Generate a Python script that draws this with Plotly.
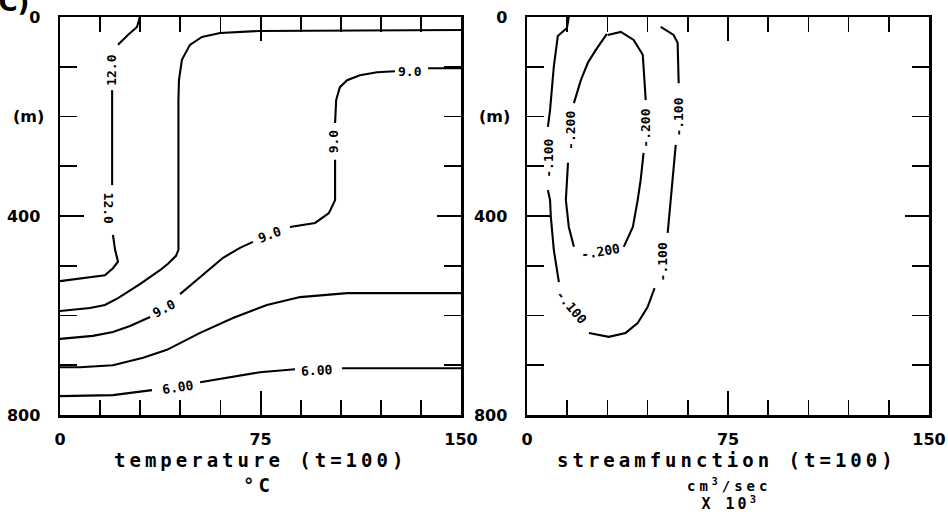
import plotly.graph_objects as go

# ---------------- data (x: 0-150, depth: m) ----------------
# Left panel: temperature contours (None = gap where label sits)
temp_12_x = [29.9, 28.8, 25.4, 21.7, None, 19.5, 19.5, None, 19.8, 20.6, 21.7, 19.8, 16.8, 0.0]
temp_12_d = [0, 20, 36, 56, None, 147, 338, None, 438, 468, 492, 505, 519, 531]

temp_105_x = [150, 89.8, 74.4, 59.9, 53.1, 48.6, 45.6, 44.5, 44.3, 44.3, 43.4, 40.4, 37.4, 29.9, 21.7, 16.8, 11.2, 0]
temp_105_d = [26, 28, 28, 32, 40, 56, 86, 127, 167, 468, 480, 496, 509, 537, 565, 579, 585, 591]

temp_9_x = [150, 137.7, None, 125.3, 118.6, 112.2, 107.4, 104.7, 103.3, 102.9, None, 102.9, 102.9, 100.6, 95.4, 86.0,
            None, 72.2, 67.3, 61.0, 52.4, 44.9, None, 33.7, 26.2, 19.8, 12.3, 0]
temp_9_d = [103, 103, None, 109, 111, 117, 127, 141, 167, 213, None, 287, 368, 394, 414, 422,
            None, 452, 464, 484, 523, 557, None, 603, 621, 633, 641, 647]

temp_75_x = [150, 127.2, 107.4, 89.8, 77.4, 64.7, 52.4, 40.0, 31.1, 19.8, 7.5, 0]
temp_75_d = [555, 555, 555, 563, 579, 605, 635, 669, 685, 700, 704, 704]

temp_6_x = [150, 105.5, None, 87.9, 74.8, 52.4, None, 34.4, 19.8, 0]
temp_6_d = [706, 706, None, 708, 714, 734, None, 750, 760, 762]

temp_label_text = ["12.0", "12.0", "9.0", "9.0", "9.0", "9.0", "6.00", "6.00"]
temp_label_x = [19.3, 18.5, 130.9, 102.1, 78.6, 38.9, 95.8, 43.8]
temp_label_d = [107, 384, 110, 250, 438, 585, 710, 744]
temp_label_angle = [-90, 90, 0, -90, -20, -28, -3, -9]

# Right panel: streamfunction contours
sf_100_x = [15.6, 14.9, 11.5, 10.0, 8.6, 7.8, None, 7.8, 8.6, 8.9, 10.0, 11.9, None, 23.1, 30.5, 36.8, 41.3, 45.0, 47.6,
            None, 52.5, 53.6, 55.5, None, 56.6, 56.2, 54.7, 49.9]
sf_100_d = [0, 22, 38, 100, 187, 221, None, 348, 368, 402, 468, 533, None, 635, 643, 635, 615, 583, 545,
            None, 434, 368, 257, None, 133, 52, 36, 20]

sf_200_x = [29.8, 28.7, 25.7, 22.7, 20.1, 17.5, None, 15.3, 14.5, 15.6, 17.5, None, 36.1, 39.5, 41.3, 42.4, 43.5,
            None, 44.3, 43.5, 43.2, 39.8, 35.0, 30.1]
sf_200_d = [34, 42, 66, 92, 127, 173, None, 293, 368, 422, 462, None, 462, 422, 368, 328, 273,
            None, 167, 107, 76, 46, 30, 36]

sf_label_text = ["-.100", "-.100", "-.100", "-.100", "-.200", "-.200", "-.200"]
sf_label_x = [8.2, 16.7, 50.6, 56.2, 16.4, 27.5, 44.3]
sf_label_d = [283, 583, 492, 201, 227, 472, 223]
sf_label_angle = [-90, 50, -90, -90, -90, -10, -90]

x_tickvals = [0, 75, 150]
x_ticktext = ["0", "75", "150"]
y_tickvals = [0, 400, 800]
y_ticktext = ["0", "400", "800"]

# ---------------- layout helpers ----------------
W, H = 948, 514
def px(xp):
    return xp / W
def py(yp):
    return 1 - yp / H

MONO = "DejaVu Sans Mono"
SANS = "DejaVu Sans"

fig = go.Figure()
line_style = dict(color="black", width=2.1)
for xs, ds in [(temp_12_x, temp_12_d), (temp_105_x, temp_105_d), (temp_9_x, temp_9_d),
               (temp_75_x, temp_75_d), (temp_6_x, temp_6_d)]:
    fig.add_trace(go.Scatter(x=xs, y=ds, mode="lines", line=line_style, connectgaps=False,
                             xaxis="x", yaxis="y", hoverinfo="skip", showlegend=False))
for xs, ds in [(sf_100_x, sf_100_d), (sf_200_x, sf_200_d)]:
    fig.add_trace(go.Scatter(x=xs, y=ds, mode="lines", line=line_style, connectgaps=False,
                             xaxis="x2", yaxis="y2", hoverinfo="skip", showlegend=False))

annotations = []
lab_font = dict(family=MONO, size=13, color="black", weight="bold")
for t, x, d, a in zip(temp_label_text, temp_label_x, temp_label_d, temp_label_angle):
    annotations.append(dict(text=t, x=x, y=d, xref="x", yref="y", showarrow=False, textangle=a, font=lab_font,
                            xanchor="center", yanchor="middle"))
for t, x, d, a in zip(sf_label_text, sf_label_x, sf_label_d, sf_label_angle):
    annotations.append(dict(text=t, x=x, y=d, xref="x2", yref="y2", showarrow=False, textangle=a, font=lab_font,
                            xanchor="center", yanchor="middle"))

tick_font = dict(family=SANS, size=16, color="black", weight="bold")
title_font = dict(family=MONO, size=19, color="black", weight="bold")

def paper_text(text, xp, yp, font):
    return dict(text=text, x=px(xp), y=py(yp), xref="paper", yref="paper", showarrow=False,
                xanchor="center", yanchor="middle", font=font)

annotations += [
    paper_text("temperature (t=100)", 260, 460, title_font),
    paper_text("°C", 258, 485, title_font),
    paper_text("streamfunction (t=100)", 727, 460, title_font),
    paper_text("cm<sup>3</sup>/sec", 729, 485, dict(family=MONO, size=14, color="black", weight="bold")),
    paper_text("X 10<sup>3</sup>", 730, 503, dict(family=MONO, size=15, color="black", weight="bold")),
    dict(text="(m)", x=px(46), y=200, xref="paper", yref="y", xanchor="right", yanchor="middle",
         showarrow=False, font=tick_font),
    dict(text="(m)", x=px(512), y=200, xref="paper", yref="y2", xanchor="right", yanchor="middle",
         showarrow=False, font=tick_font),
]

def xaxis(domain, anchor):
    return dict(domain=domain, anchor=anchor, range=[0, 150], tickvals=x_tickvals, ticktext=x_ticktext,
                ticks="inside", ticklen=24, tickwidth=2, tickcolor="black", showline=True, linewidth=2.5,
                linecolor="black", mirror="ticks", showgrid=False, zeroline=False, tickfont=tick_font,
                ticklabelstandoff=8, fixedrange=True, automargin=False,
                minor=dict(dtick=15, tick0=0, ticks="inside", ticklen=15, tickwidth=1.8, tickcolor="black",
                           showgrid=False))

def yaxis(domain, anchor):
    return dict(domain=domain, anchor=anchor, range=[800, 0], tickvals=y_tickvals, ticktext=y_ticktext,
                ticks="inside", ticklen=24, tickwidth=2, tickcolor="black", showline=True, linewidth=2.5,
                linecolor="black", mirror="ticks", showgrid=False, zeroline=False, tickfont=tick_font,
                ticklabelstandoff=14, fixedrange=True, automargin=False,
                minor=dict(dtick=100, tick0=0, ticks="inside", ticklen=17, tickwidth=1.8, tickcolor="black",
                           showgrid=False))

ydom = [py(415), py(17)]
fig.update_layout(
    width=W, height=H, margin=dict(l=0, r=0, t=0, b=0),
    paper_bgcolor="white", plot_bgcolor="white", showlegend=False,
    title=dict(text="C)", x=px(14), y=py(2), xref="container", yref="container", xanchor="center",
               yanchor="middle", automargin=False, font=dict(family=SANS, size=26, color="black", weight="bold")),
    xaxis=xaxis([px(60), px(461)], "y"),
    yaxis=yaxis(ydom, "x"),
    xaxis2=xaxis([px(527), px(929)], "y2"),
    yaxis2=yaxis(ydom, "x2"),
    annotations=annotations,
)

post = """
document.querySelectorAll('text.annotation-text').forEach(function(e){
  var t = e.textContent, ls = null;
  if (t.indexOf('t=100') >= 0 || t.indexOf('\\u00b0C') >= 0 || t.indexOf('sec') >= 0) { ls = '4px'; }
  else if (t.indexOf('X 10') >= 0) { ls = '3px'; }
  if (!ls) { return; }
  var b0 = e.getBBox(); var c0 = b0.x + b0.width / 2;
  e.style.letterSpacing = ls;
  var b1 = e.getBBox(); var c1 = b1.x + b1.width / 2;
  var tr = e.getAttribute('transform') || '';
  e.setAttribute('transform', tr + ' translate(' + (c0 - c1).toFixed(2) + ',0)');
});
"""
fig.write_html("out.html", post_script=post, config={"staticPlot": True})
